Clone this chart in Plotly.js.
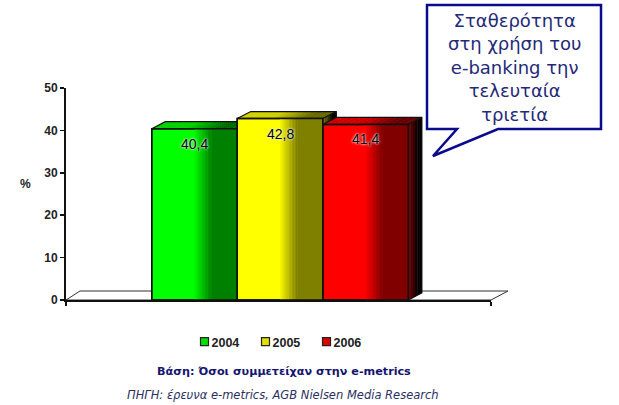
<!DOCTYPE html>
<html>
<head>
<meta charset="utf-8">
<script src="https://cdn.plot.ly/plotly-3.0.1.min.js"></script>
<style>html,body{margin:0;padding:0;background:#fff}</style>
</head>
<body>
<div id="chart" style="width:619px;height:405px"></div>
<script>
const years = ['2004', '2005', '2006'];
const values = [40.4, 42.8, 41.4];
const yTicks = [0, 10, 20, 30, 40, 50];
const brightColors = [[0, 255, 0], [255, 255, 0], [255, 0, 0]];
const darkColors = [[0, 128, 0], [128, 128, 0], [128, 0, 0]];
const calloutLines = ['Σταθερότητα', 'στη χρήση του', 'e-banking την', 'τελευταία', 'τριετία'];
const baseNote = 'Βάση: Όσοι συμμετείχαν στην e-metrics';
const sourceNote = 'ΠΗΓΗ: έρευνα e-metrics, AGB Nielsen Media Research';

const W = 619, H = 405, L = 66, R = 491, T = 88, B = 300;
const STEP = 85.5, C0 = 194.5;
const xMin = (L - C0) / STEP, xMax = (R - C0) / STEP;
const px = p => (p - L) / (R - L);
const py = p => (B - p) / (B - T);
const DX = 13.5 / STEP, DY = 7 / ((B - T) / 50);

const rgb = c => `rgb(${c.map(v => Math.round(v)).join(',')})`;
const mix = (a, b, t) => a.map((v, i) => v + (b[i] - v) * t);
const scale = (c, k) => c.map(v => v * k);

const shapes = [];
function poly(points, fill, layer, lineColor, lineWidth, ref) {
  shapes.push({
    type: 'path', layer: layer, xref: ref || 'x', yref: ref ? ref : 'y',
    path: 'M' + points.map(p => p[0] + ' ' + p[1]).join('L') + 'Z',
    fillcolor: fill, line: {color: lineColor || 'rgba(0,0,0,0)', width: lineWidth === undefined ? 0 : lineWidth}
  });
}

// floor of the 3D chart
poly([[px(66), py(300)], [px(80), py(291)], [px(508), py(291)], [px(491), py(300)]], '#ffffff', 'below', '#333', 1, 'paper');

// 3D faces, back to front
values.forEach((v, i) => {
  const x0 = i - 0.5, x1 = i + 0.5;
  const n = 14;
  for (let k = 0; k < n; k++) {
    const a = x0 + k / n, b = x0 + (k + 1) / n;
    const t = Math.min(1, Math.max(0, (k / n - 0.35) / 0.4));
    poly([[a, v], [a + DX, v + DY], [b + DX + 0.01, v + DY], [b + 0.01, v]],
      rgb(scale(mix(brightColors[i], darkColors[i], t), 0.82)), 'below');
  }
  const m = 6;
  for (let k = 0; k < m; k++) {
    const a = x1 + DX * k / m, b = x1 + DX * (k + 1) / m;
    const up0 = DY * k / m, up1 = DY * (k + 1) / m;
    const col = rgb(scale(darkColors[i], Math.max(0, 0.85 - k * 0.22)));
    poly([[a, up0], [b + 0.005, up1], [b + 0.005, v + up1], [a, v + up0]], col, 'below');
  }
  // outlines of top and side
  shapes.push({type: 'path', layer: 'below', xref: 'x', yref: 'y',
    path: `M${x0} ${v}L${x0 + DX} ${v + DY}L${x1 + DX} ${v + DY}L${x1 + DX} ${DY}L${x1} 0M${x1} ${v}L${x1 + DX} ${v + DY}`,
    line: {color: '#111', width: 1.2}});
});

// shaded part of each front face
values.forEach((v, i) => {
  const x0 = i - 0.5, x1 = i + 0.5;
  const n = 12, g0 = 0.5, g1 = 0.7;
  for (let k = 0; k < n; k++) {
    const a = x0 + g0 + (g1 - g0) * k / n;
    const b = x0 + g0 + (g1 - g0) * (k + 1) / n;
    shapes.push({type: 'rect', layer: 'above', xref: 'x', yref: 'y', x0: a, x1: b + 0.003, y0: 0, y1: v,
      fillcolor: rgb(mix(brightColors[i], darkColors[i], (k + 1) / n)), line: {width: 0}});
  }
  shapes.push({type: 'rect', layer: 'above', xref: 'x', yref: 'y', x0: x0 + g1, x1: x1, y0: 0, y1: v,
    fillcolor: rgb(darkColors[i]), line: {width: 0}});
});
values.forEach((v, i) => {
  shapes.push({type: 'rect', layer: 'above', xref: 'x', yref: 'y', x0: i - 0.5, x1: i + 0.5, y0: 0, y1: v,
    fillcolor: 'rgba(0,0,0,0)', line: {color: '#111', width: 1.5}});
});

// speech bubble
poly([[px(427), py(5)], [px(601), py(5)], [px(601), py(129)], [px(498), py(129)],
      [px(433), py(156)], [px(457), py(129)], [px(427), py(129)]],
  '#ffffff', 'above', '#0a0a8c', 2.5, 'paper');

const labelFont = {family: '"Liberation Sans", Arial, sans-serif', size: 14, color: '#000',
  shadow: '0 0 2px #fff, 0 0 3px #ddd'};

const annotations = values.map((v, i) => ({
  x: i, y: v, xref: 'x', yref: 'y', yshift: -15, yanchor: 'middle', xanchor: 'center', showarrow: false,
  text: String(v).replace('.', ','), font: labelFont
}));
annotations.push(
  {xref: 'paper', yref: 'paper', x: px(25), y: py(184), showarrow: false, xanchor: 'center', yanchor: 'middle',
   text: '<b>%</b>', font: {family: '"Liberation Sans", Arial, sans-serif', size: 12, color: '#222'}},
  {xref: 'paper', yref: 'paper', x: px(514), y: py(67.5), showarrow: false, xanchor: 'center', yanchor: 'middle',
   text: calloutLines.join('<br>'), font: {family: '"DejaVu Sans", sans-serif', size: 18, color: '#1f2a78'}},
  {xref: 'paper', yref: 'paper', x: px(284), y: py(371), showarrow: false, xanchor: 'center', yanchor: 'middle',
   text: '<b>' + baseNote + '</b>', font: {family: '"DejaVu Sans", sans-serif', size: 11.2, color: '#14146e'}},
  {xref: 'paper', yref: 'paper', x: px(282.5), y: py(395), showarrow: false, xanchor: 'center', yanchor: 'middle',
   text: '<i>' + sourceNote + '</i>', font: {family: '"DejaVu Sans", sans-serif', size: 11.5, color: '#2a2f60'}}
);

const traces = values.map((v, i) => ({
  type: 'bar', x: [i], y: [v], width: 1, name: years[i], showlegend: false, hoverinfo: 'skip',
  marker: {color: rgb(brightColors[i]), line: {color: '#111', width: 1.5}}
}));
years.forEach((y, i) => traces.push({
  type: 'scatter', mode: 'markers', x: [null], y: [null], name: y, showlegend: true,
  marker: {symbol: 'square', size: 8, color: rgb(mix(brightColors[i], darkColors[i], 0.25)), line: {color: '#222', width: 1.2}}
}));

const layout = {
  width: W, height: H, autosize: false, showlegend: true, barmode: 'overlay',
  paper_bgcolor: '#fff', plot_bgcolor: 'rgba(0,0,0,0)',
  margin: {l: L, r: W - R, t: T, b: H - B, pad: 0},
  xaxis: {type: 'linear', range: [xMin, xMax], showgrid: false, zeroline: false, showline: true, linecolor: '#111', linewidth: 2,
    tickmode: 'array', tickvals: [xMin, xMax], ticktext: ['', ''], ticks: 'outside', ticklen: 4, tickwidth: 1.5, tickcolor: '#111'},
  yaxis: {range: [0, 50], showgrid: false, zeroline: false, showline: true, linecolor: '#111', linewidth: 2,
    tickmode: 'array', tickvals: yTicks, ticks: 'outside', ticklen: 4, tickwidth: 1.5, tickcolor: '#111',
    tickfont: {family: '"Liberation Sans", Arial, sans-serif', size: 12, color: '#222', weight: 'bold'}},
  legend: {orientation: 'h', x: px(184.5), y: py(327), xanchor: 'left', yanchor: 'top', traceorder: 'normal',
    entrywidth: 16, entrywidthmode: 'pixels', itemwidth: 30, bgcolor: 'rgba(0,0,0,0)',
    font: {family: '"Liberation Sans", Arial, sans-serif', size: 12.5, color: '#222', weight: 'bold'}},
  shapes: shapes, annotations: annotations
};

Plotly.newPlot('chart', traces, layout, {staticPlot: true, displayModeBar: false}).then(() => {
  // the reference sets the legend labels right next to their swatches
  document.querySelectorAll('#chart .legendtext').forEach(t => {
    t.setAttribute('x', parseFloat(t.getAttribute('x')) - 13);
  });
});
</script>
</body>
</html>
